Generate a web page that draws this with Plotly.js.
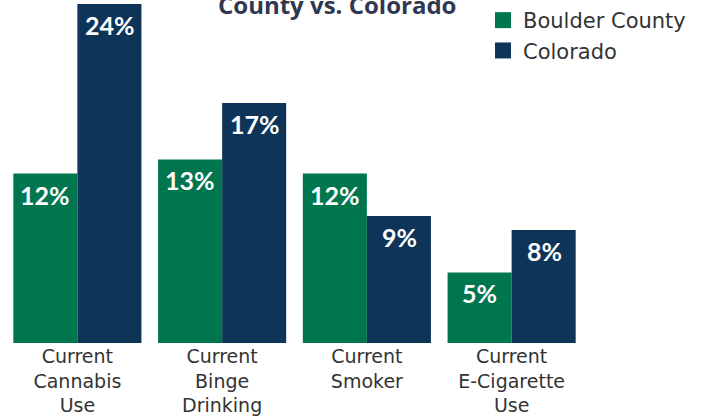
<!DOCTYPE html>
<html><head><meta charset="utf-8">
<script src="https://cdn.plot.ly/plotly-3.0.1.min.js"></script>
<style>html,body{margin:0;padding:0;background:#fff}#c{width:706px;height:416px}</style>
</head><body><div id="c"></div>
<script>
const categories = ["Current<br>Cannabis<br>Use", "Current<br>Binge<br>Drinking", "Current<br>Smoker", "Current<br>E-Cigarette<br>Use"];
const boulderValues = [12, 13, 12, 5];
const coloradoValues = [24, 17, 9, 8];
const seriesNames = ["Boulder County", "Colorado"];
const titleText = "County vs. Colorado";

const GREEN = "#00764f", NAVY = "#0e3558";
const FONT = "Lato, 'Open Sans', sans-serif";
const LABEL_FONT = "'DejaVu Sans', sans-serif";

const traces = [
  {type:"bar", name:seriesNames[0], x:categories, y:boulderValues, marker:{color:GREEN}, hoverinfo:"none", showlegend:false},
  {type:"bar", name:seriesNames[1], x:categories, y:coloradoValues, marker:{color:NAVY}, hoverinfo:"none", showlegend:false},
  {type:"scatter", mode:"markers", name:seriesNames[0], x:[null], y:[null], marker:{symbol:"square", size:19, color:GREEN}},
  {type:"scatter", mode:"markers", name:seriesNames[1], x:[null], y:[null], marker:{symbol:"square", size:19, color:NAVY}}
];

const annotations = [];
function addLabels(vals, shift){
  vals.forEach((v,i)=>annotations.push({x:categories[i], y:v, xref:"x", yref:"y", text:v+"%",
    showarrow:false, yanchor:"top", xanchor:"center", xshift:shift, yshift:-4,
    font:{family:FONT, size:25, color:"#fff", weight:700}}));
}
addLabels(boulderValues, -32);
addLabels(coloradoValues, 33);
annotations.push({text:"<b>"+titleText+"</b>", xref:"paper", yref:"paper", x:0.573, y:1, xanchor:"center", yanchor:"bottom", yshift:-19, showarrow:false,
  font:{family:"'Open Sans', sans-serif", size:24, color:"#2f3850"}});

const layout = {
  width:706, height:416,
  margin:{l:5, r:122, t:4, b:73, autoexpand:false},
  paper_bgcolor:"#fff", plot_bgcolor:"#fff",
  barmode:"group", bargap:0.115, bargroupgap:0,
  showlegend:true,
  legend:{x:0.8256, y:1, yref:"container", xanchor:"left", yanchor:"top", font:{family:LABEL_FONT, size:21, color:"#333"}, tracegroupgap:0, itemwidth:30, bgcolor:"rgba(0,0,0,0)"},
  xaxis:{tickfont:{family:LABEL_FONT, size:19, color:"#333"}, showline:false, ticks:"", fixedrange:true},
  yaxis:{range:[0,24], visible:false, showgrid:false, zeroline:false, fixedrange:true},
  annotations: annotations,
  font:{family:FONT}
};
Plotly.newPlot("c", traces, layout, {displayModeBar:false, staticPlot:true});
</script></body></html>
